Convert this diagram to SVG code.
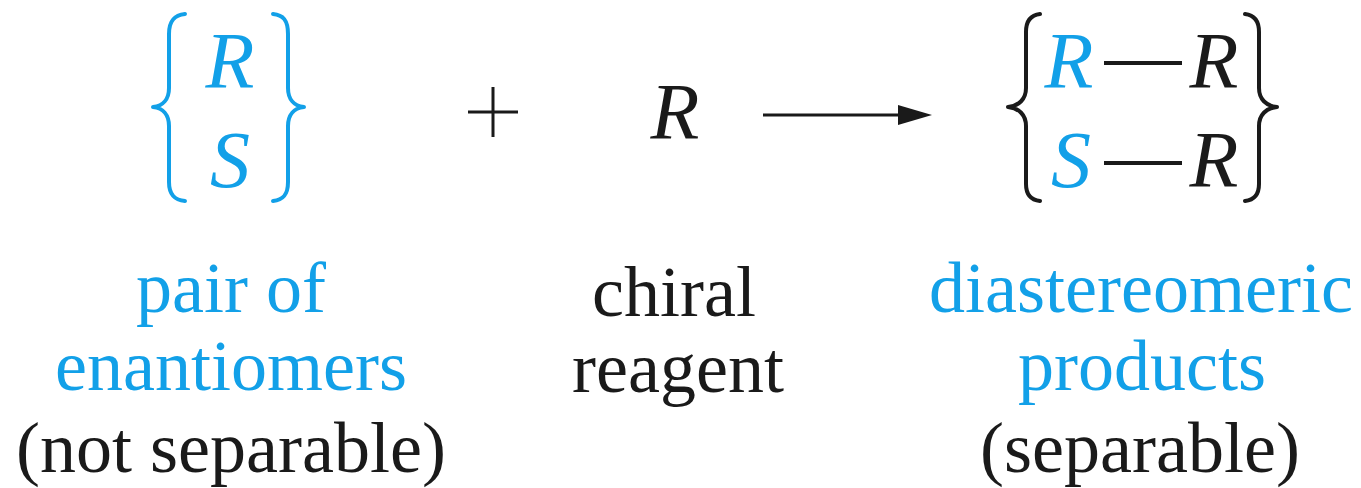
<svg xmlns="http://www.w3.org/2000/svg" width="1361" height="488" viewBox="0 0 1361 488">
<style>
.t{font-family:"Liberation Serif","Times New Roman",serif;font-size:72px;text-anchor:middle}
.it{font-family:"Liberation Serif","Times New Roman",serif;font-style:italic;font-size:80px;text-anchor:middle}
.b{fill:#12a0e8}
.k{fill:#1a1a1a}
.br{fill:none;stroke-width:4;stroke-linecap:round;stroke-linejoin:round}
.bb{stroke:#12a0e8}
.bk{stroke:#1a1a1a}
.ln{stroke:#1a1a1a;stroke-width:3;fill:none}
</style>
<defs>
<marker id="ah" viewBox="0 0 34 20" refX="0" refY="10" markerWidth="34" markerHeight="20" markerUnits="userSpaceOnUse" orient="auto">
<polygon points="0,0 34,10 0,20" fill="#1a1a1a"/>
</marker>
</defs>
<rect width="1361" height="488" fill="#fff"/>
<g id="enantiomers">
<path class="br bb" d="M185,14 C175,15 169,20 169,34 L169,88 C169,99 163,106 153,107 C163,108 169,115 169,126 L169,182 C169,195 175,200 185,201"/>
<path class="br bb" d="M273,14 C283,15 288,20 288,34 L288,88 C288,99 294,106 304,107 C294,108 288,115 288,126 L288,182 C288,195 283,200 273,201"/>
<text class="it b" x="230" y="88">R</text>
<text class="it b" x="230" y="187">S</text>
<text class="t b" x="231" y="312">pair of</text>
<text class="t b" x="231" y="390">enantiomers</text>
<text class="t k" x="231" y="472">(not separable)</text>
</g>
<g id="plus">
<path class="ln" d="M468,112 H518 M493,87 V137"/>
</g>
<g id="reagent">
<text class="it k" x="675" y="139">R</text>
<text class="t k" x="674" y="316">chiral</text>
<text class="t k" x="678" y="392">reagent</text>
</g>
<g id="products">
<path class="br bk" d="M1040,14 C1031,15 1026,20 1026,32 L1026,88 C1026,99 1019,106 1008,107 C1019,108 1026,115 1026,126 L1026,184 C1026,195 1031,200 1040,201"/>
<path class="br bk" d="M1245,14 C1254,15 1259,20 1259,32 L1259,88 C1259,99 1266,106 1277,107 C1266,108 1259,115 1259,126 L1259,184 C1259,195 1254,200 1245,201"/>
<text class="it b" x="1069" y="88">R</text>
<line x1="1104" y1="63" x2="1182" y2="63" stroke="#1a1a1a" stroke-width="4"/>
<text class="it k" x="1214" y="88">R</text>
<text class="it b" x="1071" y="187">S</text>
<line x1="1104" y1="163" x2="1182" y2="163" stroke="#1a1a1a" stroke-width="4"/>
<text class="it k" x="1214" y="187">R</text>
<text class="t b" x="1141" y="312">diastereomeric</text>
<text class="t b" x="1142" y="390">products</text>
<text class="t k" x="1140" y="472">(separable)</text>
</g>
<g id="connectors">
<line class="ln" x1="763" y1="115" x2="898" y2="115" marker-end="url(#ah)"/>
</g>
</svg>
